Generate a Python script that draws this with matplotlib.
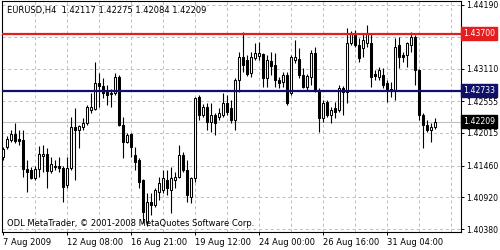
"""
EURUSD H4 candlestick chart, MetaTrader style
"""
import matplotlib
matplotlib.use('Agg')
import matplotlib.pyplot as plt

# OHLC (one H4 bar per entry)
opens = [1.41606, 1.41776, 1.41895, 1.41997, 1.41912, 1.41895, 1.41402, 1.41385, 1.41249, 1.41402,
         1.41623, 1.41657, 1.41368, 1.41453, 1.41453, 1.41419, 1.41130, 1.41419, 1.42116, 1.42065,
         1.42116, 1.42184, 1.42405, 1.42422, 1.42864, 1.42813, 1.42711, 1.42694, 1.42694, 1.42966,
         1.42150, 1.41861, 1.41997, 1.41640, 1.41555, 1.41215, 1.40501, 1.40841, 1.40790, 1.41011,
         1.41045, 1.41215, 1.41045, 1.41215, 1.41266, 1.41640, 1.41385, 1.40926, 1.41249, 1.42626,
         1.42320, 1.42456, 1.42201, 1.42320, 1.42286, 1.42320, 1.42524, 1.42439, 1.42235, 1.42915,
         1.43306, 1.43255, 1.43034, 1.43289, 1.43323, 1.43357, 1.42949, 1.43238, 1.43170, 1.42915,
         1.42881, 1.43000, 1.42694, 1.43255, 1.43272, 1.43000, 1.42796, 1.42966, 1.43374, 1.42745,
         1.42269, 1.42541, 1.42320, 1.42439, 1.42405, 1.42779, 1.42711, 1.43544, 1.43714, 1.43510,
         1.43459, 1.43544, 1.43544, 1.43017, 1.42966, 1.43000, 1.42864, 1.42762, 1.42745, 1.43510,
         1.43340, 1.43340, 1.43510, 1.43646, 1.43085, 1.42320, 1.42150, 1.42065, 1.42117]
highs = [1.41776, 1.41963, 1.42065, 1.42184, 1.42065, 1.42065, 1.41555, 1.41436, 1.41453, 1.41793,
         1.41810, 1.41759, 1.41606, 1.41555, 1.41606, 1.41453, 1.41606, 1.42286, 1.42439, 1.42150,
         1.42269, 1.42490, 1.42694, 1.43221, 1.43034, 1.42949, 1.42830, 1.42762, 1.43034, 1.43000,
         1.42286, 1.42014, 1.42014, 1.41776, 1.41589, 1.41232, 1.40994, 1.40994, 1.41079, 1.41266,
         1.41385, 1.41385, 1.41436, 1.41351, 1.41810, 1.41691, 1.41555, 1.41266, 1.42626, 1.42660,
         1.42507, 1.42524, 1.42524, 1.42354, 1.42439, 1.42694, 1.42660, 1.42575, 1.42949, 1.43391,
         1.43731, 1.43340, 1.43391, 1.43544, 1.43561, 1.43374, 1.43340, 1.43391, 1.43374, 1.42966,
         1.43051, 1.43051, 1.43340, 1.43595, 1.43459, 1.43119, 1.43017, 1.43425, 1.43476, 1.42779,
         1.42575, 1.42575, 1.42456, 1.42541, 1.42830, 1.42813, 1.43799, 1.43748, 1.43765, 1.43629,
         1.43714, 1.43850, 1.43714, 1.43085, 1.43136, 1.43119, 1.42915, 1.42881, 1.43629, 1.43646,
         1.43391, 1.43561, 1.43731, 1.43680, 1.43102, 1.42354, 1.42235, 1.42184, 1.42275]
lows = [1.41555, 1.41742, 1.41861, 1.41844, 1.41810, 1.41266, 1.41011, 1.41232, 1.41215, 1.41266,
        1.41351, 1.41079, 1.41334, 1.41385, 1.41351, 1.40841, 1.41079, 1.41385, 1.41215, 1.41759,
        1.42065, 1.42150, 1.42354, 1.42405, 1.42456, 1.42609, 1.42490, 1.42456, 1.42660, 1.42133,
        1.41589, 1.41844, 1.41606, 1.41385, 1.41079, 1.40484, 1.40433, 1.40620, 1.40756, 1.40875,
        1.40994, 1.40960, 1.40654, 1.41079, 1.41249, 1.41351, 1.40841, 1.40824, 1.41181, 1.42235,
        1.42286, 1.42065, 1.42031, 1.41980, 1.42235, 1.42286, 1.42320, 1.42184, 1.42065, 1.42711,
        1.43051, 1.42983, 1.42966, 1.43255, 1.43255, 1.42796, 1.42796, 1.43000, 1.42796, 1.42779,
        1.42796, 1.42490, 1.42660, 1.43204, 1.42949, 1.42779, 1.42745, 1.42830, 1.42711, 1.42031,
        1.42201, 1.42286, 1.42184, 1.42269, 1.42371, 1.42320, 1.42524, 1.43510, 1.43476, 1.43221,
        1.43306, 1.43476, 1.42796, 1.42915, 1.42915, 1.42779, 1.42541, 1.42626, 1.42575, 1.43119,
        1.43221, 1.43136, 1.43391, 1.42830, 1.42235, 1.41759, 1.42031, 1.41861, 1.42084]
closes = [1.41742, 1.41912, 1.41997, 1.41878, 1.41878, 1.41402, 1.41351, 1.41249, 1.41402, 1.41657,
          1.41657, 1.41368, 1.41487, 1.41436, 1.41419, 1.41096, 1.41419, 1.42116, 1.42065, 1.42133,
          1.42184, 1.42456, 1.42456, 1.42864, 1.42813, 1.42694, 1.42660, 1.42677, 1.42966, 1.42150,
          1.41861, 1.41980, 1.41776, 1.41521, 1.41181, 1.40671, 1.40841, 1.40790, 1.41045, 1.41164,
          1.41249, 1.41079, 1.41249, 1.41266, 1.41640, 1.41385, 1.40960, 1.41249, 1.42609, 1.42320,
          1.42456, 1.42201, 1.42320, 1.42184, 1.42354, 1.42524, 1.42371, 1.42235, 1.42915, 1.43306,
          1.43170, 1.43017, 1.43306, 1.43374, 1.43374, 1.42949, 1.43255, 1.43153, 1.42915, 1.42864,
          1.43000, 1.42524, 1.43306, 1.43306, 1.43000, 1.42796, 1.42983, 1.43374, 1.42745, 1.42269,
          1.42524, 1.42320, 1.42405, 1.42371, 1.42779, 1.42711, 1.43544, 1.43714, 1.43510, 1.43289,
          1.43595, 1.43714, 1.42966, 1.42983, 1.43085, 1.42830, 1.42745, 1.42728, 1.43476, 1.43306,
          1.43306, 1.43544, 1.43646, 1.43085, 1.42320, 1.42150, 1.42065, 1.42116, 1.42209]

price_ticks = [1.44190, 1.43650, 1.43110, 1.42555, 1.42015, 1.41460, 1.40920, 1.40380]
# 1.43650 sits under the red level box, so its label is not shown
price_labels = ['1.44190', '', '1.43110', '1.42555', '1.42015', '1.41460', '1.40920', '1.40380']
date_pos = [0, 16, 32, 48, 64, 80, 96]
date_labels = ['7 Aug 2009', '12 Aug 08:00', '16 Aug 21:00', '19 Aug 12:00',
               '24 Aug 00:00', '26 Aug 16:00', '31 Aug 04:00']
level_red = 1.43700
level_blue = 1.42733

FS = 6.0
FS_Y = 5.6
plt.rcParams['font.family'] = 'DejaVu Sans'

fig = plt.figure(figsize=(5, 2.5), dpi=100, facecolor='white')
ax = fig.add_axes([0.004, 0.072, 0.918, 0.924])
ax.set_xlim(-0.25, 114.5)
ax.set_ylim(1.40331, 1.44258)

# grid
for gx in range(8, 115, 8):
    ax.axvline(gx, color='#bcbcbc', lw=0.7, ls=(0, (3, 3)), zorder=0)
for gy in price_ticks:
    ax.axhline(gy, color='#bcbcbc', lw=0.7, ls=(0, (3, 3)), zorder=0)

# bid line
ax.axhline(closes[-1], color='#c0c0c0', lw=0.8, zorder=1)

# candles
xs = list(range(len(opens)))
ax.vlines(xs, lows, highs, color='black', lw=0.8, zorder=2)
for x, o, c in zip(xs, opens, closes):
    up = c >= o
    h = max(abs(c - o), 0.00003)
    ax.bar(x, h, bottom=min(o, c), width=0.62, color='white' if up else 'black',
           edgecolor='black', linewidth=0.75, zorder=3)

# horizontal levels
ax.axhline(level_red, color='#e41e1e', lw=1.6, zorder=4)
ax.axhline(level_blue, color='#10106a', lw=1.6, zorder=4)

# axes styling
for s in ax.spines.values():
    s.set_color('black')
    s.set_linewidth(0.8)
ax.yaxis.tick_right()
ax.set_yticks(price_ticks)
ax.set_yticklabels(price_labels, fontsize=FS_Y)
ax.set_xticks(date_pos)
ax.set_xticklabels(date_labels, fontsize=FS, ha='left')
ax.tick_params(axis='both', length=2.5, width=0.7, color='black', pad=1.5)
ax.tick_params(axis='y', pad=1.2)

# price boxes on the scale
for lvl, col in [(level_red, '#e41e1e'), (level_blue, '#10106a'), (closes[-1], 'black')]:
    ax.text(1.005, lvl, f'{lvl:.5f}', transform=ax.get_yaxis_transform(), fontsize=FS_Y,
            color='white', va='center', ha='left', zorder=10, clip_on=False,
            bbox=dict(boxstyle='square,pad=0.25', fc=col, ec=col))

# header and copyright
fig.text(7 / 500, 1 - 11 / 250, 'EURUSD,H4  1.42117 1.42275 1.42084 1.42209',
         fontsize=FS, va='center', ha='left')
fig.text(7 / 500, 1 - 224 / 250, 'ODL MetaTrader, \u00a9 2001-2008 MetaQuotes Software Corp.',
         fontsize=FS, va='center', ha='left', zorder=20)

fig.savefig('out.png', dpi=100, facecolor='white')
